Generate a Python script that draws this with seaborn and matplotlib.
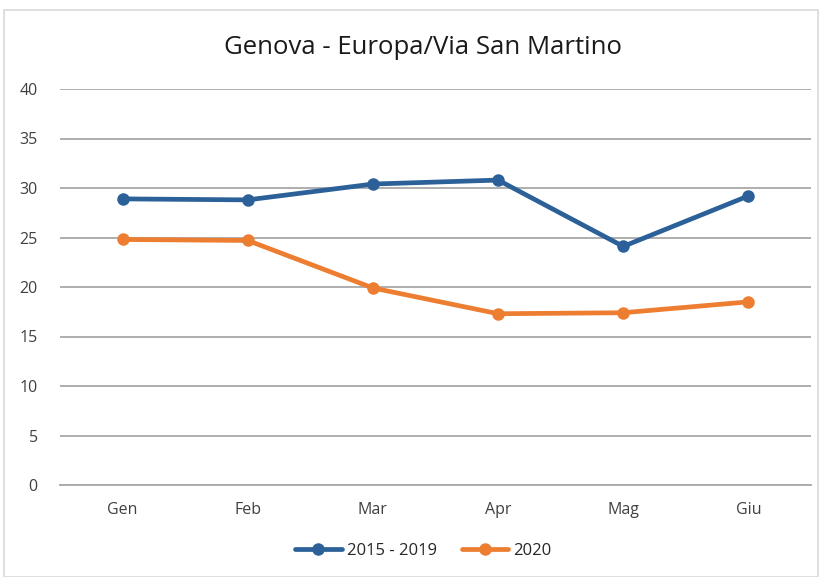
import matplotlib
matplotlib.use("Agg")
import matplotlib.pyplot as plt
from matplotlib.patches import Rectangle
import pandas as pd
import seaborn as sns

MONTHS = ["Gen", "Feb", "Mar", "Apr", "Mag", "Giu"]
AVG_2015_2019 = [28.9, 28.8, 30.4, 30.8, 24.1, 29.2]
VALUES_2020 = [24.8, 24.7, 19.9, 17.3, 17.4, 18.5]
SERIES = ["2015 - 2019", "2020"]
COLORS = ["#2B6198", "#ED7D31"]

df = pd.DataFrame({
    "mese": MONTHS * 2,
    "valore": AVG_2015_2019 + VALUES_2020,
    "serie": [SERIES[0]] * 6 + [SERIES[1]] * 6,
})

sns.set_theme(style="white")
plt.rcParams["font.family"] = ["Open Sans", "DejaVu Sans"]

fig = plt.figure(figsize=(8.22, 5.77), dpi=100)
ax = fig.add_axes([60 / 822, 1 - 485 / 577, 751 / 822, 396 / 577])

sns.lineplot(
    data=df, x="mese", y="valore", hue="serie", palette=COLORS,
    marker="o", markersize=9, markeredgewidth=0, linewidth=3.4,
    sort=False, ax=ax,
)

ax.set_xlim(-0.5, 5.5)
ax.set_ylim(0, 40)
ax.set_yticks(range(0, 41, 5))
ax.grid(axis="y", color="#a8a8a8", linewidth=1.3)
ax.set_axisbelow(True)
for side in ["left", "right", "top"]:
    ax.spines[side].set_visible(False)
ax.spines["bottom"].set_color("#a8a8a8")
ax.spines["bottom"].set_linewidth(1.3)
ax.tick_params(axis="both", length=0, labelsize=11.5, colors="#404040")
ax.tick_params(axis="x", pad=12)
ax.tick_params(axis="y", pad=16)
ax.set_xlabel("")
ax.set_ylabel("")

fig.text(0.515, 1 - 47 / 577, "Genova - Europa/Via San Martino",
         ha="center", va="center", fontsize=18.5, color="#1a1a1a")

handles, labels = ax.get_legend_handles_labels()
ax.get_legend().remove()
fig.legend(handles, labels, loc="center", bbox_to_anchor=(0.515, 1 - 551 / 577),
           ncol=2, frameon=False, fontsize=12, handlelength=2.8,
           columnspacing=1.5, handletextpad=0.3)

fig.patches.append(Rectangle((4 / 822, 1 - 577 / 577), 814 / 822, 567 / 577,
                             transform=fig.transFigure, fill=False,
                             edgecolor="#d9d9d9", linewidth=1.2))

fig.savefig("out.png", dpi=100)
